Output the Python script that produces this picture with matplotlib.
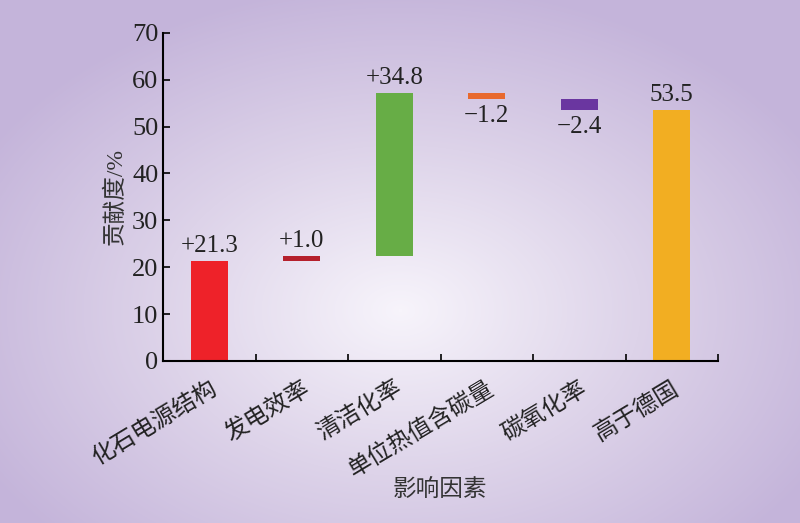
import numpy as np
import matplotlib.pyplot as plt
from matplotlib.colors import LinearSegmentedColormap

plt.rcParams['font.family'] = ['Liberation Serif', 'Noto Sans CJK SC']

categories = ['化石电源结构', '发电效率', '清洁化率', '单位热值含碳量', '碳氧化率', '高于德国']
changes = [21.3, 1.0, 34.8, -1.2, -2.4]
total = 53.5
value_labels = ['+21.3', '+1.0', '+34.8', '\u22121.2', '\u22122.4', '53.5']
colors = ['#ee2229', '#b5202c', '#67ad46', '#e8692e', '#6a36a0', '#f2ae22']

# waterfall bottoms / heights
bottoms = []
heights = []
level = 0.0
for c in changes:
    if c >= 0:
        bottoms.append(level)
    else:
        bottoms.append(level + c)
    heights.append(abs(c))
    level += c
bottoms.append(0)
heights.append(total)

fig = plt.figure(figsize=(8, 5.23), dpi=100)

# radial gradient background
bg = fig.add_axes([0, 0, 1, 1])
yy, xx = np.mgrid[0:523, 0:800]
r = np.sqrt(((xx - 400) / 480.0) ** 2 + ((yy - 310) / 330.0) ** 2)
r = np.clip(r, 0, 1)
cmap = LinearSegmentedColormap.from_list('bg', ['#f7f4fb', '#ddd3e9', '#c4b4da'])
bg.imshow(r, cmap=cmap, aspect='auto', extent=[0, 1, 0, 1], origin='upper')
bg.axis('off')

ax = fig.add_axes([0.204, 0.31, 0.6935, 0.627])
ax.patch.set_alpha(0)
x = np.arange(len(categories))
ax.bar(x, heights, bottom=bottoms, width=0.4, color=colors)

for i, lab in enumerate(value_labels):
    if i < len(changes) and changes[i] < 0:
        ax.annotate(lab, (x[i], bottoms[i]), xytext=(0, -4), textcoords='offset points',
                    ha='center', va='top', fontsize=18, color='#222222')
    else:
        ax.annotate(lab, (x[i], bottoms[i] + heights[i]), xytext=(0, 3), textcoords='offset points',
                    ha='center', va='bottom', fontsize=18, color='#222222')

ax.set_xlim(-0.5, 5.5)
ax.set_ylim(0, 70)
ax.set_yticks(range(0, 71, 10))
ax.set_xticks(x)
ax.set_xticklabels(categories, rotation=31, ha='right', rotation_mode='anchor',
                   fontsize=17, color='#222222')
ax.set_xticks(np.arange(0.5, 6, 1), minor=True)
ax.tick_params(axis='x', which='major', length=0, pad=12)
ax.tick_params(axis='x', which='minor', direction='in', length=5, width=1.2)
ax.tick_params(axis='y', direction='in', length=5, width=1.2, labelsize=19, labelcolor='#222222')
for s in ['top', 'right']:
    ax.spines[s].set_visible(False)
for s in ['left', 'bottom']:
    ax.spines[s].set_linewidth(1.5)
ax.set_ylabel('贡献度/%', fontsize=17, labelpad=4, color='#333333')
fig.text(0.55, 0.063, '影响因素', ha='center', va='center', fontsize=17, color='#333333')

fig.savefig('out.png', dpi=100)
